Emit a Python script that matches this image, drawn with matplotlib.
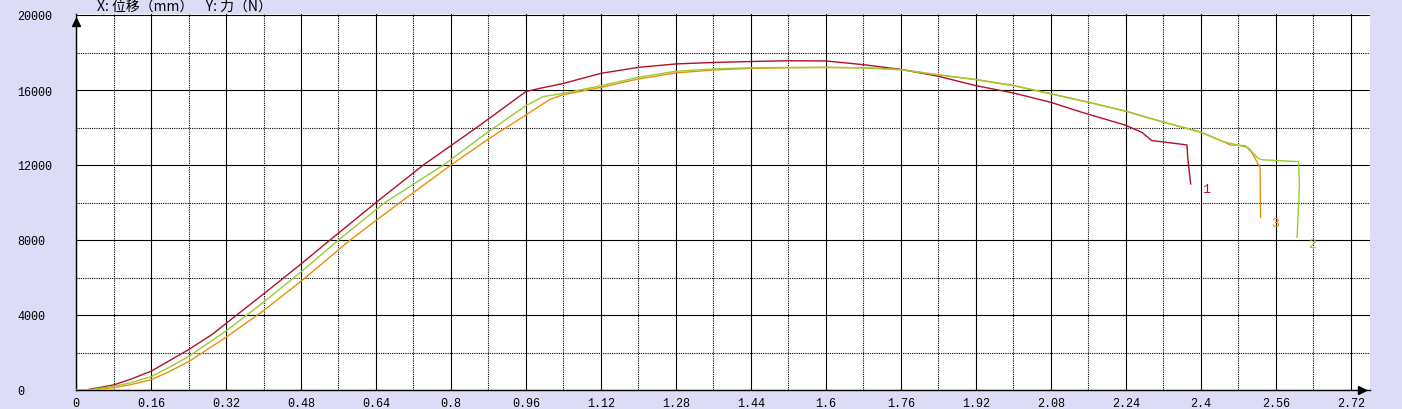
import matplotlib
matplotlib.use('Agg')
import matplotlib.pyplot as plt
import numpy as np

# curve 1 (red)
x1 = [0, 0.02, 0.043, 0.08, 0.114, 0.16, 0.199, 0.24, 0.292, 0.32, 0.40, 0.48, 0.542,
      0.64, 0.741, 0.855, 0.96, 0.99, 1.04, 1.12, 1.20, 1.28, 1.36, 1.44, 1.52, 1.60,
      1.68, 1.76, 1.84, 1.92, 2.00, 2.08, 2.142, 2.238, 2.274, 2.295, 2.316, 2.370,
      2.372, 2.378]
y1 = [0, 0, 100, 270, 550, 1000, 1560, 2150, 2990, 3550, 5120, 6720, 8000,
      10000, 12000, 14000, 15920, 16090, 16350, 16890, 17210, 17390, 17470, 17520, 17560, 17550,
      17350, 17100, 16730, 16230, 15840, 15340, 14840, 14130, 13740, 13300, 13240, 13070,
      12300, 10990]

# curve 2 (green)
x2 = [0, 0.03, 0.043, 0.08, 0.114, 0.16, 0.199, 0.24, 0.32, 0.40, 0.48, 0.56, 0.659,
      0.784, 0.88, 0.96, 0.997, 1.04, 1.12, 1.20, 1.28, 1.36, 1.44, 1.52, 1.60, 1.68,
      1.76, 1.84, 1.92, 2.00, 2.08, 2.16, 2.24, 2.32, 2.40, 2.448, 2.50, 2.522, 2.53,
      2.608, 2.610, 2.605]
y2 = [0, 0, 60, 200, 370, 710, 1210, 1780, 3150, 4680, 6300, 8000, 10000,
      12000, 13780, 15170, 15650, 15820, 16230, 16680, 17000, 17120, 17190, 17200, 17210, 17180,
      17080, 16800, 16550, 16230, 15790, 15340, 14860, 14280, 13740, 13240, 12940, 12350, 12280,
      12180, 10900, 8140]

# curve 3 (orange)
x3 = [0, 0.03, 0.08, 0.114, 0.16, 0.199, 0.24, 0.32, 0.40, 0.48, 0.585, 0.691, 0.80,
      0.88, 0.96, 1.011, 1.04, 1.12, 1.20, 1.28, 1.36, 1.44, 1.52, 1.60, 1.68, 1.76,
      1.84, 1.92, 2.00, 2.08, 2.16, 2.24, 2.32, 2.40, 2.448, 2.462, 2.494, 2.508, 2.526,
      2.527]
y3 = [0, 0, 120, 270, 550, 980, 1510, 2810, 4230, 5800, 8000, 10000, 12000,
      13390, 14670, 15500, 15750, 16140, 16590, 16910, 17070, 17150, 17190, 17200, 17190, 17090,
      16810, 16560, 16240, 15800, 15350, 14870, 14290, 13750, 13240, 13070, 13030, 12680, 11870,
      9210]

curve_labels = ['1', '2', '3']
label_x = [2.411, 2.637, 2.559]
label_y = [10720, 7790, 8910]

x_ticks = [0, 0.16, 0.32, 0.48, 0.64, 0.8, 0.96, 1.12, 1.28, 1.44, 1.6, 1.76, 1.92,
           2.08, 2.24, 2.4, 2.56, 2.72]
x_tick_labels = ['0', '0.16', '0.32', '0.48', '0.64', '0.8', '0.96', '1.12', '1.28', '1.44',
                 '1.6', '1.76', '1.92', '2.08', '2.24', '2.4', '2.56', '2.72']
y_ticks = [0, 4000, 8000, 12000, 16000, 20000]
y_tick_labels = ['0', '4000', '8000', '12000', '16000', '20000']

bg = '#dcdcf6'
colors = ['#b0102a', '#99cc33', '#e8900a']

fig = plt.figure(figsize=(14.02, 4.10), dpi=100, facecolor=bg)
ax = fig.add_axes([76 / 1402, 19 / 410, 1294 / 1402, 376 / 410])
ax.set_facecolor('white')

ax.set_xlim(0, 1294 / 468.75)
ax.set_ylim(0, 376 / 75 * 4000)

# grid: solid majors, dotted minors
ax.set_xticks(x_ticks)
ax.set_xticklabels(x_tick_labels)
ax.set_xticks(np.arange(0.08, 2.7, 0.16), minor=True)
ax.set_yticks(y_ticks)
ax.set_yticklabels(y_tick_labels, ha='left')
ax.set_yticks(np.arange(2000, 20000, 4000), minor=True)
ax.grid(which='major', color='black', linewidth=0.8, linestyle='-')
ax.grid(which='minor', color='black', linewidth=0.8, linestyle=(0, (1, 1)))
ax.tick_params(which='both', length=0)
ax.tick_params(axis='x', pad=5)
ax.tick_params(axis='y', pad=42.5)
for lab in ax.get_xticklabels() + ax.get_yticklabels():
    lab.set_family('Liberation Mono')
    lab.set_fontsize(8.5)

for s in ['top', 'right']:
    ax.spines[s].set_visible(False)
for s in ['left', 'bottom']:
    ax.spines[s].set_color('black')
    ax.spines[s].set_linewidth(1.0)

# axis arrows
ax.plot([0], [19650], marker='^', color='black', markersize=6, clip_on=False, zorder=5)
ax.plot([2.7435], [0], marker='>', color='black', markersize=6, clip_on=False, zorder=5)

ax.plot(x1, y1, color=colors[0], linewidth=1.0, zorder=3)
ax.plot(x3, y3, color=colors[2], linewidth=1.0, zorder=3)
ax.plot(x2, y2, color=colors[1], linewidth=1.0, zorder=3)

for i in range(3):
    ax.text(label_x[i], label_y[i], curve_labels[i], color=colors[i], fontsize=9.5,
            family='Liberation Mono', ha='center', va='center')

fig.text(97 / 1402, 1 - 7 / 410, 'X: 位移（mm）    Y: 力（N）', fontsize=10,
         family=['Noto Sans CJK SC', 'DejaVu Sans'], ha='left', va='center')

fig.savefig('out.png', dpi=100, facecolor=bg)
